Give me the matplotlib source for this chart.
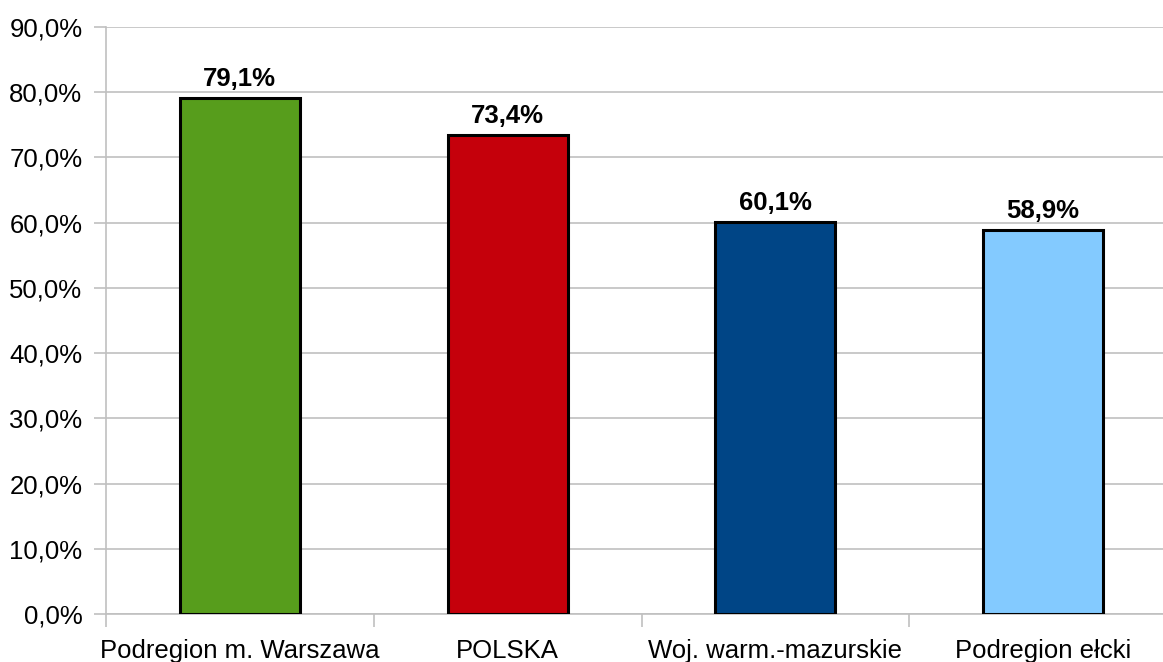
import matplotlib
matplotlib.use("Agg")
import matplotlib.pyplot as plt
from matplotlib.ticker import FuncFormatter, MultipleLocator, FixedLocator
import numpy as np

categories = ["Podregion m. Warszawa", "POLSKA", "Woj. warm.-mazurskie", "Podregion ełcki"]
values = [79.1, 73.4, 60.1, 58.9]
colors = ["#579d1c", "#c5000b", "#004586", "#83caff"]

plt.rcParams['font.family'] = ['Liberation Sans', 'DejaVu Sans']

W, H = 1163, 662
fig = plt.figure(figsize=(W / 100, H / 100), dpi=100)
left, right, top, bottom = 106, 1177, 27, 614
ax = fig.add_axes([left / W, (H - bottom) / H, (right - left) / W, (bottom - top) / H])

x = np.arange(len(categories))
ax.bar(x, values, width=0.448, color=colors, edgecolor="black", linewidth=2.2, zorder=3)

for xi, v in zip(x, values):
    ax.annotate(f"{v:.1f}%".replace(".", ","), (xi, v), xytext=(0, 5), textcoords="offset points",
                ha="center", va="bottom", fontsize=18.5, fontweight="bold", zorder=4)

ax.set_xlim(-0.5, 3.5)
ax.set_ylim(0, 90)
ax.yaxis.set_major_locator(MultipleLocator(10))
ax.yaxis.set_major_formatter(FuncFormatter(lambda v, p: f"{v:.1f}%".replace(".", ",")))
ax.set_xticks(x)
ax.set_xticklabels(categories)
ax.xaxis.set_minor_locator(FixedLocator([-0.5, 0.5, 1.5, 2.5, 3.5]))

gc = "#c0c0c0"
ax.grid(axis="y", color=gc, linewidth=1.2, zorder=0)
for s in ["top", "right"]:
    ax.spines[s].set_visible(False)
for s in ["left", "bottom"]:
    ax.spines[s].set_color(gc)
    ax.spines[s].set_linewidth(1.2)

ax.tick_params(axis="y", length=9, width=1.2, color=gc, labelsize=18.5, pad=8)
ax.tick_params(axis="x", which="major", length=0, labelsize=18.5, pad=18)
ax.tick_params(axis="x", which="minor", length=9, width=1.2, color=gc)

fig.savefig("out.png", dpi=100)
